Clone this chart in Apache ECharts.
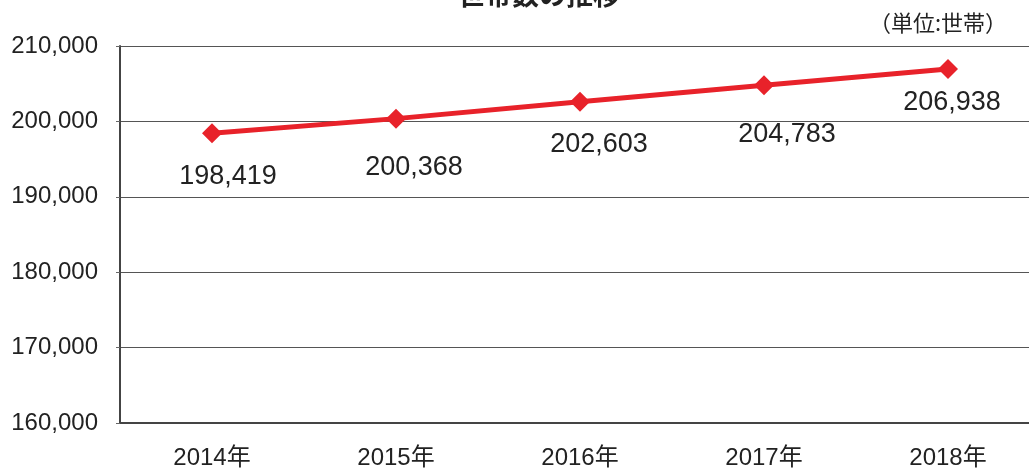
<!DOCTYPE html>
<html>
<head>
<meta charset="utf-8">
<script src="https://cdn.jsdelivr.net/npm/echarts@6/dist/echarts.min.js"></script>
<style>
html,body{margin:0;padding:0;background:#fff;overflow:hidden;}
#chart{width:1040px;height:470px;}
</style>
</head>
<body>
<div id="chart"></div>
<script>
// 年次
const years = ['2014年', '2015年', '2016年', '2017年', '2018年'];
// 世帯数
const households = [198419, 200368, 202603, 204783, 206938];

// ラベルの微調整 [dx, dy]
const labelShift = [[16, 4], [18, 9], [19, 3], [23, 10], [4, -6]];

const numFont = '"Liberation Sans", "Noto Sans CJK JP", sans-serif';
const jpFont = '"Noto Sans CJK JP", sans-serif';

const chart = echarts.init(document.getElementById('chart'));
chart.setOption({
    animation: false,
    title: {
        text: '世帯数の推移',
        left: 534,
        top: -24,
        textAlign: 'center',
        textStyle: {fontFamily: jpFont, fontSize: 27, fontWeight: 'bold', color: '#222'}
    },
    graphic: [{
        type: 'text',
        right: 33,
        top: 12,
        style: {text: '（単位:世帯）', font: '22px "Noto Sans CJK JP", sans-serif', fill: '#222'}
    }],
    grid: {left: 120, right: 0, top: 46, bottom: 47},
    xAxis: {
        type: 'category',
        data: years,
        boundaryGap: true,
        axisLine: {lineStyle: {color: '#444', width: 2}},
        axisTick: {inside: true, length: 6, lineStyle: {color: '#666'}},
        axisLabel: {fontFamily: numFont, fontSize: 24, color: '#222', margin: 23}
    },
    yAxis: {
        type: 'value',
        min: 160000,
        max: 210000,
        interval: 10000,
        axisLine: {show: true, lineStyle: {color: '#444', width: 2}},
        axisTick: {show: true, length: 4, lineStyle: {color: '#666'}},
        splitLine: {lineStyle: {color: '#555', width: 1}},
        axisLabel: {
            fontFamily: numFont, fontSize: 24, color: '#222', margin: 22,
            formatter: v => v.toLocaleString('en-US')
        }
    },
    series: [{
        type: 'line',
        data: households.map((v, i) => ({value: v, label: {offset: labelShift[i]}})),
        symbol: 'diamond',
        symbolSize: 20,
        lineStyle: {color: '#e8222a', width: 5},
        itemStyle: {color: '#e8222a'},
        label: {
            show: true,
            position: 'bottom',
            distance: 16,
            fontFamily: numFont,
            fontSize: 27,
            color: '#222',
            formatter: p => p.value.toLocaleString('en-US')
        }
    }]
});
</script>
</body>
</html>
